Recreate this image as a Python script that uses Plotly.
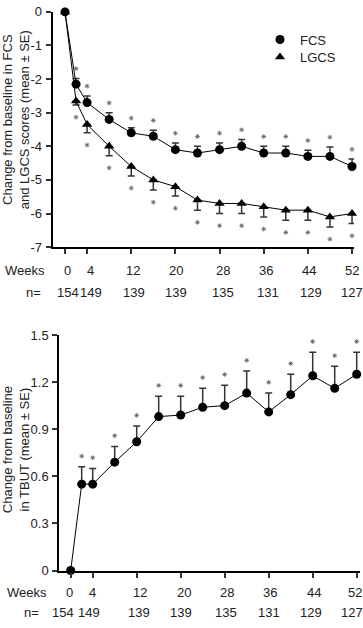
import plotly.graph_objects as go

# ---------------- data ----------------
weeks = [0, 2, 4, 8, 12, 16, 20, 24, 28, 32, 36, 40, 44, 48, 52]
fcs_mean = [0, -2.15, -2.7, -3.2, -3.6, -3.7, -4.1, -4.2, -4.1, -4.0, -4.2, -4.2, -4.3, -4.3, -4.6]
fcs_se = [0, 0.17, 0.2, 0.2, 0.15, 0.18, 0.2, 0.2, 0.2, 0.2, 0.2, 0.2, 0.18, 0.28, 0.22]
lgcs_mean = [0, -2.65, -3.35, -4.0, -4.6, -5.0, -5.2, -5.6, -5.7, -5.7, -5.8, -5.9, -5.9, -6.1, -6.0]
lgcs_se = [0, 0.12, 0.25, 0.28, 0.28, 0.3, 0.28, 0.3, 0.3, 0.3, 0.3, 0.3, 0.3, 0.3, 0.3]
tbut_mean = [0, 0.55, 0.55, 0.69, 0.82, 0.98, 0.99, 1.04, 1.05, 1.13, 1.01, 1.12, 1.24, 1.16, 1.25]
tbut_se = [0, 0.11, 0.10, 0.10, 0.10, 0.13, 0.12, 0.12, 0.13, 0.14, 0.12, 0.13, 0.15, 0.14, 0.14]
# significance flags (every post-baseline visit is marked)
signif = [False] + [True] * 14

tick_weeks = [0, 4, 12, 20, 28, 36, 44, 52]
tick_labels = ["0", "4", "12", "20", "28", "36", "44", "52"]
n_labels = ["154", "149", "139", "139", "135", "131", "129", "127"]

top_yticks = [0, -1, -2, -3, -4, -5, -6, -7]
bot_yticks = [0, 0.3, 0.6, 0.9, 1.2, 1.5]

# small horizontal nudges (px) of the typeset labels, as in the original figure
top_week_shift = [2, 3, 2, 1, 3, 2, 1, 0]
top_n_shift = [3, 4, 3, 1, 3, 4, 3, 0]
bot_week_shift = [-1, 0, 3, 3, 2, 1, 1, -2]
bot_n_shift = [-8, -4, 2, 0, 1, 0, -2, -5]

W, H = 363, 628
FONT = "Liberation Sans, Arial, sans-serif"
TXT = "#222222"

# plot-area geometry (px)
TOP_Y0, TOP_Y1 = 5, 246
BOT_Y0, BOT_Y1 = 336, 577.3
TOP_RANGE = [-7, 0]
BOT_RANGE = [0, 1.5]
top_ppu = (TOP_Y1 - TOP_Y0) / (TOP_RANGE[1] - TOP_RANGE[0])
bot_ppu = (BOT_Y1 - BOT_Y0) / (BOT_RANGE[1] - BOT_RANGE[0])

def px(x):
    return x / W

def py(y):
    return 1 - y / H

fig = go.Figure()

mk = dict(color="black", size=9, line=dict(width=0))
err_col = "#333333"

# FCS
fig.add_trace(go.Scatter(
    x=weeks, y=fcs_mean, mode="lines+markers", xaxis="x", yaxis="y",
    line=dict(color="black", width=1), marker=dict(symbol="circle", **mk),
    error_y=dict(type="data", symmetric=False, array=fcs_se,
                 arrayminus=[0] * len(fcs_se), color=err_col, thickness=1.5, width=3.5),
    showlegend=False, cliponaxis=False))
# LGCS
fig.add_trace(go.Scatter(
    x=weeks, y=lgcs_mean, mode="lines+markers", xaxis="x", yaxis="y",
    line=dict(color="black", width=1), marker=dict(symbol="triangle-up", **mk),
    error_y=dict(type="data", symmetric=False, array=[0] * len(lgcs_se),
                 arrayminus=lgcs_se, color=err_col, thickness=1.5, width=3.5),
    showlegend=False, cliponaxis=False))
# TBUT
fig.add_trace(go.Scatter(
    x=weeks, y=tbut_mean, mode="lines+markers", xaxis="x2", yaxis="y2",
    line=dict(color="black", width=1), marker=dict(symbol="circle", **mk),
    error_y=dict(type="data", symmetric=False, array=tbut_se,
                 arrayminus=[0] * len(tbut_se), color=err_col, thickness=1.5, width=3.5),
    showlegend=False, cliponaxis=False))

# significance asterisks, offset a few pixels beyond the error-bar ends
ast_mk = dict(symbol="asterisk-open", size=4, color="#666666", line=dict(width=0.9, color="#666666"))
sx = [w for w, s in zip(weeks, signif) if s]
fig.add_trace(go.Scatter(
    x=sx, y=[m + e + 10 / top_ppu for m, e, s in zip(fcs_mean, fcs_se, signif) if s],
    mode="markers", marker=ast_mk, xaxis="x", yaxis="y", showlegend=False, cliponaxis=False,
    hoverinfo="skip"))
fig.add_trace(go.Scatter(
    x=sx, y=[m - e - 12.5 / top_ppu for m, e, s in zip(lgcs_mean, lgcs_se, signif) if s],
    mode="markers", marker=ast_mk, xaxis="x", yaxis="y", showlegend=False, cliponaxis=False,
    hoverinfo="skip"))
fig.add_trace(go.Scatter(
    x=sx, y=[m + e + 11 / bot_ppu for m, e, s in zip(tbut_mean, tbut_se, signif) if s],
    mode="markers", marker=ast_mk, xaxis="x2", yaxis="y2", showlegend=False, cliponaxis=False,
    hoverinfo="skip"))

# legend entries (two separately positioned legends)
fig.add_trace(go.Scatter(x=[None], y=[None], mode="markers", name="FCS", legend="legend",
                         marker=dict(symbol="circle", **mk), xaxis="x", yaxis="y"))
fig.add_trace(go.Scatter(x=[None], y=[None], mode="markers", name="LGCS", legend="legend2",
                         marker=dict(symbol="triangle-up", **mk), xaxis="x", yaxis="y"))

annotations = []
lab_font = dict(family=FONT, size=13, color=TXT)
# Weeks / n= rows
rows = [("x", 270, 292, 47, 43, top_week_shift, top_n_shift),
        ("x2", 600, 620, 49, 41, bot_week_shift, bot_n_shift)]
for xr, yw, yn, xl_w, xl_n, wsh, nsh in rows:
    annotations.append(dict(x=px(xl_w), y=py(yw), xref="paper", yref="paper", text="Weeks",
                            showarrow=False, xanchor="right", yanchor="middle", font=lab_font))
    annotations.append(dict(x=px(xl_n), y=py(yn), xref="paper", yref="paper", text="n=",
                            showarrow=False, xanchor="right", yanchor="middle", font=lab_font))
    for w, tl, nl, s1, s2 in zip(tick_weeks, tick_labels, n_labels, wsh, nsh):
        annotations.append(dict(x=w, y=py(yw), xref=xr, yref="paper", text=tl, xshift=s1,
                                showarrow=False, xanchor="center", yanchor="middle", font=lab_font))
        annotations.append(dict(x=w, y=py(yn), xref=xr, yref="paper", text=nl, xshift=s2,
                                showarrow=False, xanchor="center", yanchor="middle", font=lab_font))

# y-axis titles
annotations.append(dict(x=px(16), y=py(116), xref="paper", yref="paper",
                        xanchor="center", yanchor="middle",
                        text="Change from baseline in FCS<br>and LGCS scores (mean ± SE)",
                        showarrow=False, textangle=-90, font=lab_font, align="center"))
annotations.append(dict(x=px(16), y=py(454), xref="paper", yref="paper",
                        xanchor="center", yanchor="middle",
                        text="Change from baseline<br>in TBUT (mean ± SE)",
                        showarrow=False, textangle=-90, font=lab_font, align="center"))

axis_common = dict(showgrid=False, zeroline=False, showline=True, linecolor="black",
                   linewidth=2, ticks="outside", ticklen=5, tickwidth=1.5, tickcolor="#333333")

leg_common = dict(xanchor="left", yanchor="top", font=dict(family=FONT, size=13, color=TXT),
                  bgcolor="rgba(0,0,0,0)", itemwidth=30)

fig.update_layout(
    width=W, height=H, autosize=False,
    margin=dict(l=0, r=0, t=0, b=0),
    paper_bgcolor="white", plot_bgcolor="white",
    font=dict(family=FONT, size=13, color=TXT),
    xaxis=dict(domain=[px(52.7), px(354)], range=[-2.23, 52.36], anchor="y",
               tickvals=tick_weeks, showticklabels=False, **axis_common),
    yaxis=dict(domain=[py(TOP_Y1), py(TOP_Y0)], range=TOP_RANGE, anchor="x",
               tickvals=top_yticks, ticktext=[str(v) for v in top_yticks],
               tickfont=lab_font, ticklabelstandoff=1, **axis_common),
    xaxis2=dict(domain=[px(59.3), px(360)], range=[-2.07, 52.6], anchor="y2",
                tickvals=tick_weeks, showticklabels=False, **axis_common),
    yaxis2=dict(domain=[py(BOT_Y1), py(BOT_Y0)], range=BOT_RANGE, anchor="x2",
                tickvals=bot_yticks, ticktext=["0", "0.3", "0.6", "0.9", "1.2", "1.5"],
                tickfont=lab_font, ticklabelstandoff=1, **axis_common),
    showlegend=True,
    legend=dict(x=px(260), y=py(18), **leg_common),
    legend2=dict(x=px(260), y=py(36), **leg_common),
    annotations=annotations,
)

fig.write_html("out.html", config={"displayModeBar": False},
               post_script="document.body.style.margin='0';document.body.style.padding='0';document.body.style.overflow='hidden';")
